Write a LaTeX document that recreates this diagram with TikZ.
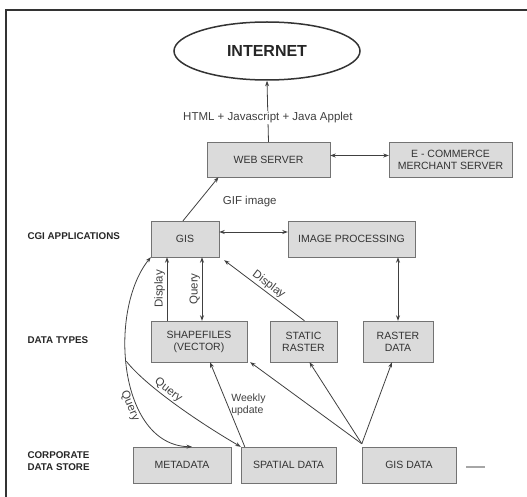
\documentclass[tikz,border=0pt]{standalone}
\usepackage{fontspec}
\setmainfont{Liberation Sans}
\usetikzlibrary{shapes.geometric,shadows,arrows.meta,positioning}
\tikzset{
  box/.style={draw=black!55, fill=black!14, text=black!80, align=center, inner sep=0pt,
    font=\fontsize{10.5}{12}\selectfont,
    drop shadow={shadow xshift=1.3pt, shadow yshift=-1.3pt, fill=black!50, opacity=1}},
  tier/.style={anchor=west, align=left, text=black!85, font=\bfseries\fontsize{9.8}{12.5}\selectfont},
  edgelabel/.style={text=black!75, inner sep=1.5pt, font=\fontsize{11.5}{13}\selectfont},
  link/.style={draw=black!75, line width=0.8pt, >={Stealth[length=5.5pt,width=4pt]}},
}
\begin{document}
\begin{tikzpicture}[x=1pt, y=-1pt]
	\useasboundingbox (0,0) rectangle (527,497);
	\draw[line width=1.6pt, black!80] (6,497) -- (6,10) -- (527,10);

	\node[ellipse, draw=black!80, line width=1.5pt, minimum width=186pt, minimum height=58pt,
		font=\bfseries\fontsize{16}{18}\selectfont, text=black!85] (internet) at (267,51) {INTERNET};

	\node[box, minimum width=123pt, minimum height=35pt] (web) at (268.5,159.5) {WEB SERVER};
	\node[box, minimum width=123pt, minimum height=35pt] (ecom) at (450.5,159.5) {E - COMMERCE\\MERCHANT SERVER};
	\node[box, minimum width=68pt, minimum height=36pt] (gis) at (185,239) {GIS};
	\node[box, minimum width=127pt, minimum height=36pt] (imgproc) at (351.5,239) {IMAGE PROCESSING};
	\node[box, minimum width=96pt, minimum height=41pt] (shape) at (199,341.5) {SHAPEFILES\\(VECTOR)};
	\node[box, minimum width=67pt, minimum height=41pt] (static) at (303.5,341.5) {STATIC\\RASTER};
	\node[box, minimum width=70pt, minimum height=41pt] (rasterd) at (398,341.5) {RASTER\\DATA};
	\node[box, minimum width=98pt, minimum height=36pt] (meta) at (182,465) {METADATA};
	\node[box, minimum width=95pt, minimum height=36pt] (spatial) at (288.5,465) {SPATIAL DATA};
	\node[box, minimum width=94pt, minimum height=36pt] (gisdata) at (409,465) {GIS DATA};

	\node[tier] (cgi) at (24,236) {CGI APPLICATIONS};
	\node[tier] (types) at (24,340) {DATA TYPES};
	\node[tier] (store) at (24,461) {CORPORATE\\DATA STORE};

	\draw[link, ->] (web.north) -- node[edgelabel, fill=white, pos=0.4] {HTML + Javascript + Java Applet} (internet.south);
	\draw[link, <->] ([yshift=4pt]web.east) -- ([yshift=4pt]ecom.west);
	\draw[link, ->] ([xshift=-2pt]gis.north) -- ([xshift=-50pt]web.south)
		node[edgelabel, pos=0.45, right=22pt] {GIF image};
	\draw[link, <->] ([yshift=7pt]gis.east) -- ([yshift=7pt]imgproc.west);
	\draw[link, ->] ([xshift=-32pt]shape.north) -- ([xshift=-32pt]shape.north |- gis.south)
		node[edgelabel, midway, sloped, above] {Display};
	\draw[link, <->] ([xshift=3pt]shape.north) -- ([xshift=3pt]shape.north |- gis.south)
		node[edgelabel, midway, sloped, above] {Query};
	\draw[link, ->] ([xshift=1pt]static.north) -- ([xshift=5pt,yshift=-3pt]gis.south east)
		node[edgelabel, midway, sloped, above] {Display};
	\draw[link, <->] (rasterd.north |- imgproc.south) -- (rasterd.north);

	\draw[link, <->] (gis.south west) .. controls (108,310) and (118,445) ..
		coordinate[pos=0.46] (qsplit) node[edgelabel, pos=0.64, sloped, below] {Query}
		([xshift=10pt]meta.north);
	\draw[link, ->] (qsplit) .. controls (145,385) and (195,420) ..
		node[edgelabel, pos=0.42, sloped, above] {Query} (spatial.north west);

	\draw[link, ->] ([xshift=4pt]spatial.north west) -- ([xshift=11pt]shape.south)
		node[edgelabel, midway, right=2pt, align=left, font=\fontsize{10.5}{12}\selectfont] {Weekly\\update};
	\coordinate (gdtop) at ([yshift=3pt]gisdata.north west);
	\draw[link, ->] (gdtop) -- ([xshift=3pt]shape.south east);
	\draw[link, ->] (gdtop) -- ([xshift=6pt]static.south);
	\draw[link, ->] (gdtop) -- ([xshift=-6pt]rasterd.south);

	\draw[black!35, line width=1.2pt] ([xshift=10pt,yshift=-2pt]gisdata.east) -- ++(19,0);
\end{tikzpicture}
\end{document}
